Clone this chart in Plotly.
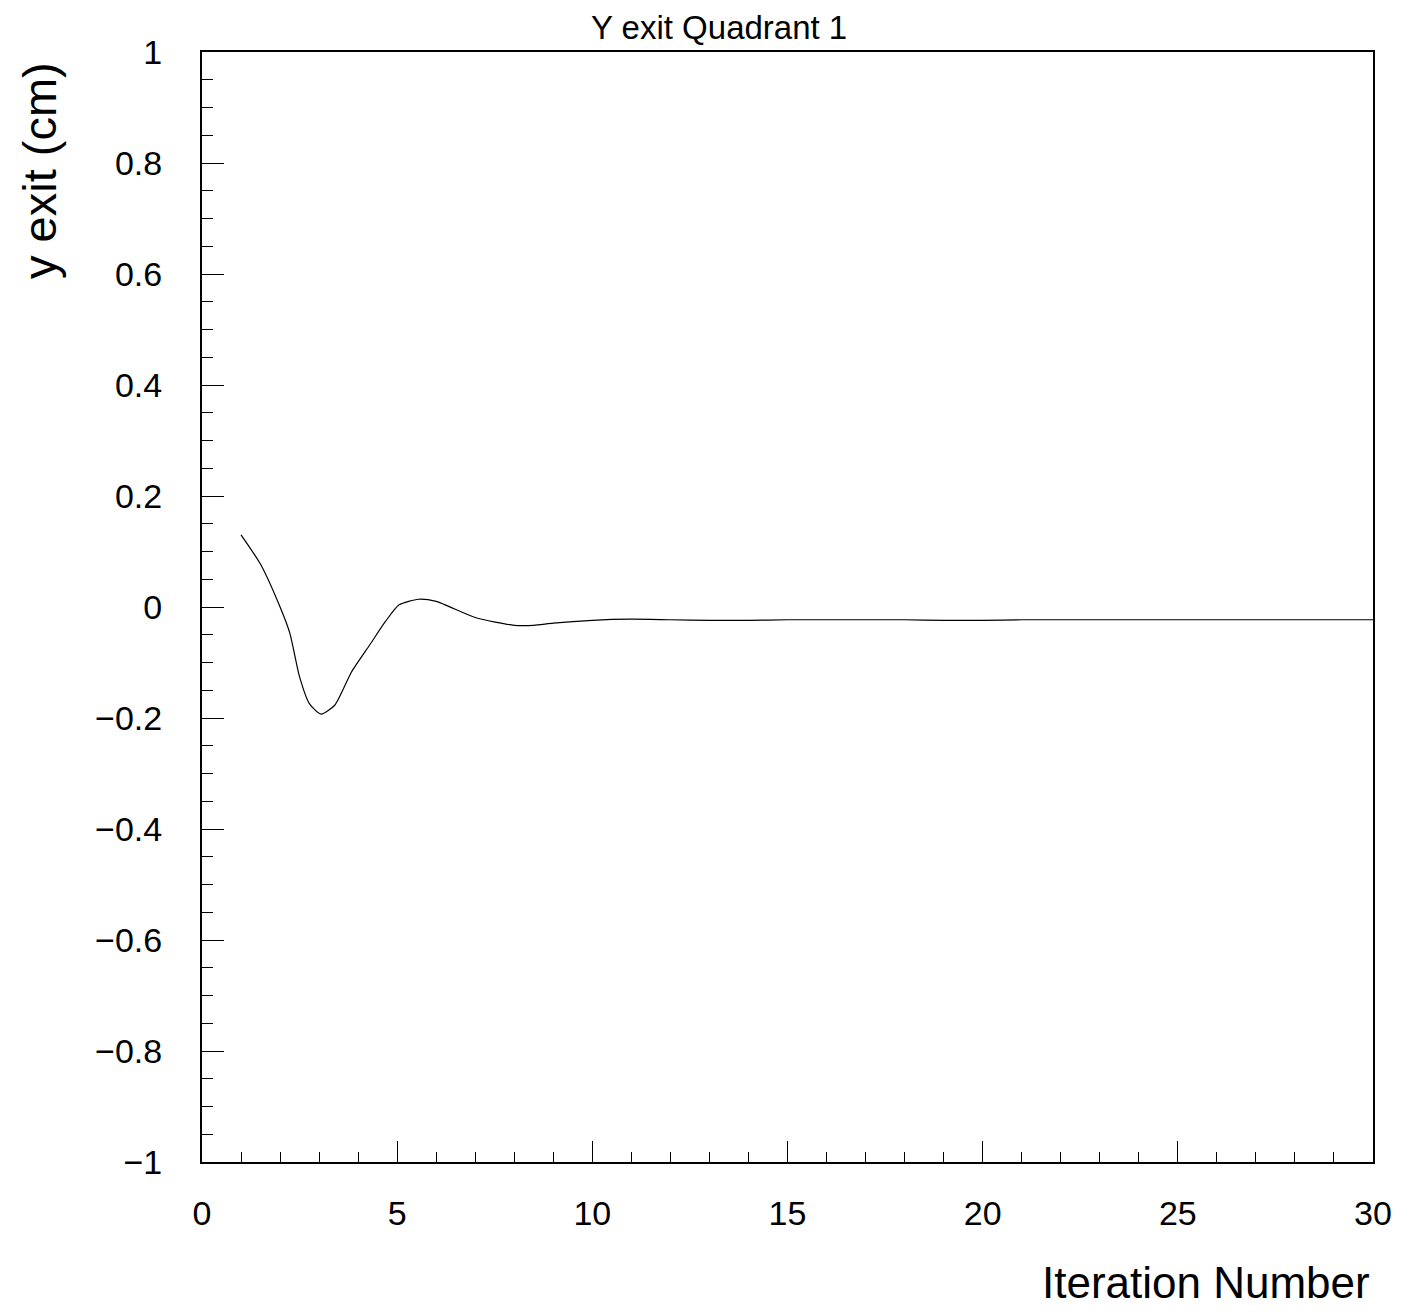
import plotly.graph_objects as go

# Data
iteration = [1, 1.5, 2, 2.25, 2.5, 2.75, 3.05, 3.4, 3.83, 4.3, 4.7, 5.05, 5.55, 6.0,
             7, 8, 8.5, 9, 10, 11, 12, 13, 14, 15, 16, 17, 18, 19, 20, 21, 22, 23,
             24, 25, 26, 27, 28, 29, 30]
y_exit = [0.130, 0.077, 0.000, -0.047, -0.126, -0.174, -0.193, -0.177, -0.117, -0.068,
          -0.026, 0.004, 0.014, 0.010, -0.019, -0.033, -0.033, -0.029, -0.024, -0.022,
          -0.023, -0.024, -0.024, -0.023, -0.023, -0.023, -0.023, -0.024, -0.024, -0.023,
          -0.023, -0.023, -0.023, -0.023, -0.023, -0.023, -0.023, -0.023, -0.023]

title_text = "Y exit Quadrant 1"
x_title = "Iteration Number"
y_title = "y exit (cm)"

FONT = "Liberation Sans"

fig = go.Figure()
fig.add_trace(go.Scatter(
    x=iteration, y=y_exit, mode="lines",
    line=dict(color="black", width=1.2, shape="spline", smoothing=0.6),
    showlegend=False, hoverinfo="skip",
))

# page offset of the figure (body margin)
OFF = 8
W, H = 1395, 1299
# plot area in page pixels: left 202, right 1373, top 52, bottom 1162
L = 202 - OFF
T = 52 - OFF
R = W - (1373 - OFF)
B = H - (1162 - OFF)
pw, ph = W - L - R, H - T - B

def px_x(p):
    return (p - OFF - L) / pw

def px_y(p):
    return (H - B - (p - OFF)) / ph

fig.update_layout(
    width=W, height=H,
    margin=dict(l=L, r=R, t=T, b=B, pad=0),
    paper_bgcolor="white", plot_bgcolor="white",
    font=dict(family=FONT, color="black", size=34),
    xaxis=dict(
        range=[0, 30], tickmode="linear", tick0=0, dtick=5,
        ticks="inside", ticklen=21, tickwidth=1, tickcolor="black",
        minor=dict(ticks="inside", ticklen=10, dtick=1, tickwidth=1, tickcolor="black"),
        showline=True, linewidth=2, linecolor="black", mirror=True,
        showgrid=False, zeroline=False,
        tickfont=dict(size=34, family=FONT),
        ticklabelstandoff=20,
    ),
    yaxis=dict(
        range=[-1, 1], tickmode="linear", tick0=-1, dtick=0.2,
        ticks="inside", ticklen=22, tickwidth=1, tickcolor="black",
        minor=dict(ticks="inside", ticklen=11, dtick=0.05, tickwidth=1, tickcolor="black"),
        showline=True, linewidth=2, linecolor="black", mirror=True,
        showgrid=False, zeroline=False,
        tickfont=dict(size=34, family=FONT),
        tickformat="~g",
        ticklabelstandoff=31,
        exponentformat="none",
    ),
    annotations=[
        dict(text=title_text, xref="paper", yref="paper",
             x=px_x(719), y=px_y(27), xanchor="center", yanchor="middle",
             showarrow=False, font=dict(size=33, family=FONT)),
        dict(text=x_title, xref="paper", yref="paper",
             x=px_x(1372), y=px_y(1282), xanchor="right", yanchor="middle",
             showarrow=False, font=dict(size=44, family=FONT)),
        dict(text=y_title, xref="paper", yref="paper",
             x=px_x(39), y=px_y(171), xanchor="center", yanchor="middle",
             textangle=-90, showarrow=False, font=dict(size=47, family=FONT)),
    ],
)

fig.write_html("out.html")
